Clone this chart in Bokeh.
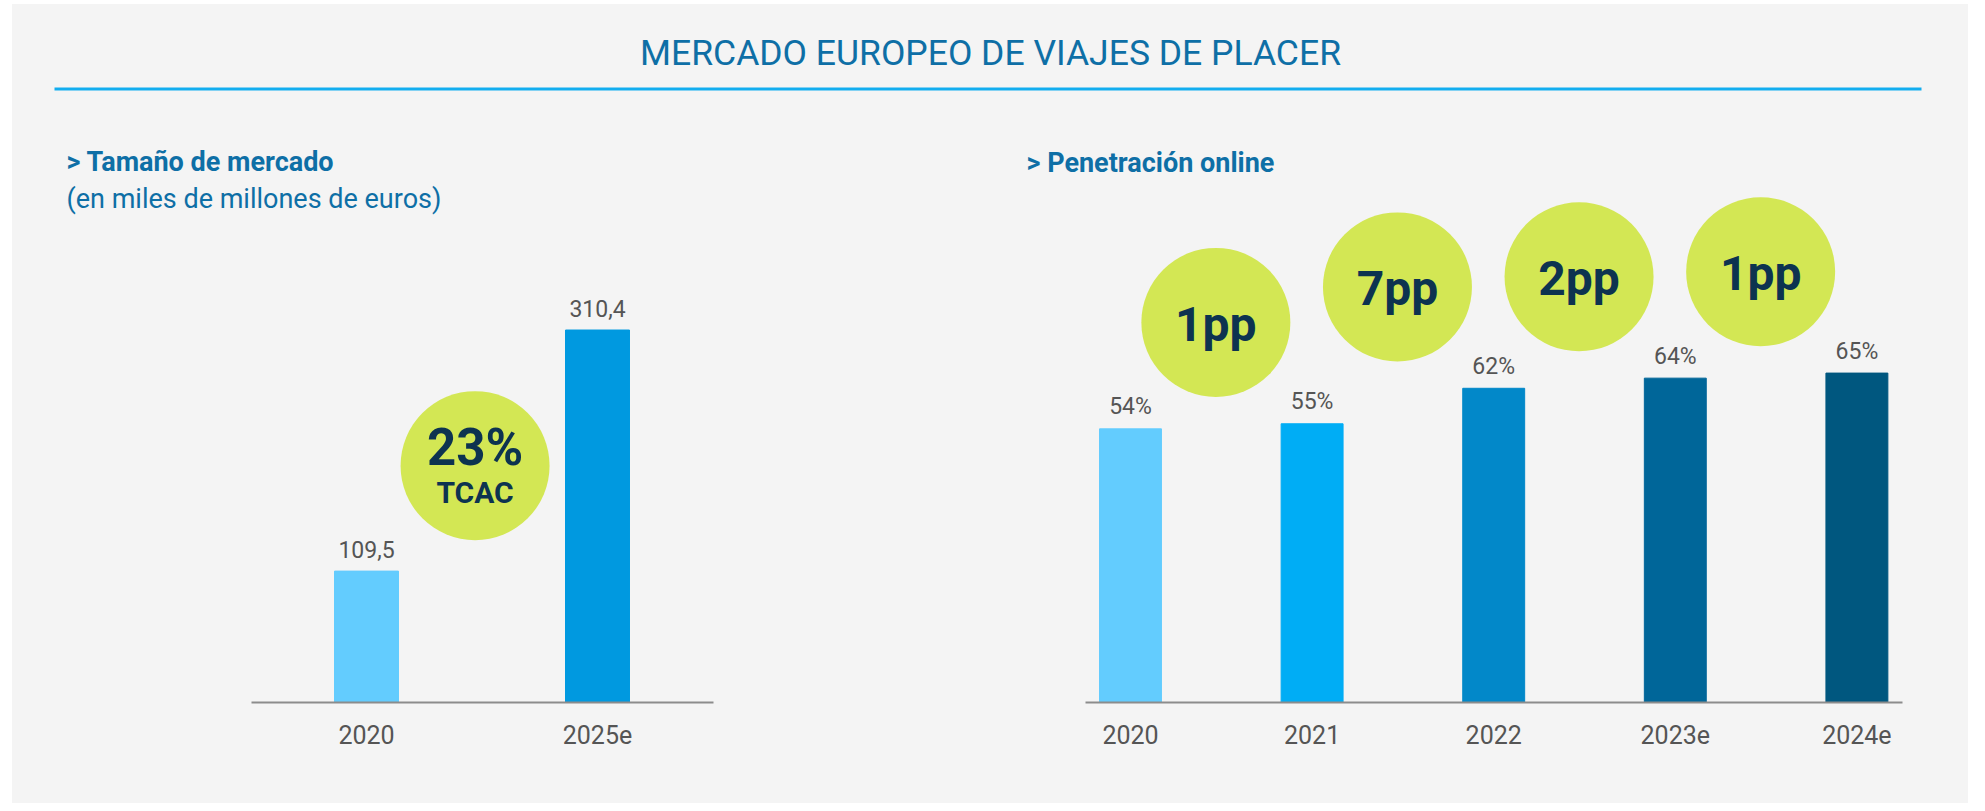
from bokeh.plotting import figure
from bokeh.models import Range1d, FixedTicker, ColumnDataSource
from bokeh.layouts import column, row
from bokeh.embed import file_html
from bokeh.resources import INLINE
from bokeh.core.properties import value

# ---------------- data ----------------
main_title = "MERCADO EUROPEO DE VIAJES DE PLACER"

left_title = "> Tamaño de mercado"
left_subtitle = "(en miles de millones de euros)"
left_years = ["2020", "2025e"]
left_values = [109.5, 310.4]
left_value_labels = ["109,5", "310,4"]
cagr_text = "23%"
cagr_caption = "TCAC"

right_title = "> Penetración online"
right_years = ["2020", "2021", "2022", "2023e", "2024e"]
right_values = [54, 55, 62, 64, 65]
right_value_labels = ["54%", "55%", "62%", "64%", "65%"]
growth_labels = ["1pp", "7pp", "2pp", "1pp"]

# ---------------- styles ----------------
FONT = "Roboto"
BG = "#f4f4f4"
BLUE_TXT = "#0e6fa6"
RULE = "#12adef"
NAVY = "#0d3350"
BUBBLE = "#d3e754"
GRAY_TXT = "#555555"
AXIS = "#8c8c8c"
left_colors = ["#63ccfe", "#0099e0"]
right_colors = ["#63ccfe", "#00adf5", "#0288c9", "#006699", "#00577f"]


def base_fig(width, height, x_range, y_range, bottom):
    p = figure(width=width, height=height, x_range=x_range, y_range=y_range,
               toolbar_location=None, output_backend="svg", title=None,
               y_axis_location=None, min_border_left=0, min_border_right=0,
               min_border_top=0, min_border_bottom=bottom,
               background_fill_color=BG, border_fill_color=BG,
               outline_line_color=None)
    p.xgrid.visible = False
    p.ygrid.visible = False
    return p


def style_axis(p, labels, lo, hi):
    ax = p.xaxis[0]
    ax.ticker = FixedTicker(ticks=list(range(len(labels))))
    ax.major_label_overrides = {i: s for i, s in enumerate(labels)}
    ax.bounds = (lo, hi)
    ax.axis_line_color = AXIS
    ax.axis_line_width = 2
    ax.major_tick_line_color = None
    ax.minor_tick_line_color = None
    ax.major_label_text_font = FONT
    ax.major_label_text_font_size = "25px"
    ax.major_label_text_color = GRAY_TXT
    ax.major_label_standoff = 16


# page-pixel layout constants
PAGE_LEFT, PAGE_TOP, PAGE_RIGHT, PAGE_BOTTOM = 12, 4, 1968, 803
HEAD_BOTTOM = 110

# ---------------- header ----------------
header = figure(width=PAGE_RIGHT - PAGE_LEFT, height=HEAD_BOTTOM - PAGE_TOP,
                x_range=Range1d(PAGE_LEFT, PAGE_RIGHT), y_range=Range1d(HEAD_BOTTOM, PAGE_TOP),
                toolbar_location=None, output_backend="svg", title=None,
                x_axis_location=None, y_axis_location=None, min_border=0,
                background_fill_color=BG, border_fill_color=BG, outline_line_color=None)
header.xgrid.visible = False
header.ygrid.visible = False
header.text(x=[990], y=[52], text=[main_title], text_align="center",
            text_baseline="alphabetic", text_font=value(FONT),
            text_font_size="35.5px", text_color=BLUE_TXT)
header.segment(x0=[54], y0=[88.5], x1=[1921], y1=[88.5], line_width=3, line_color=RULE)

CH = PAGE_BOTTOM - HEAD_BOTTOM

# ---------------- left chart ----------------
L_PX0, L_PX1 = PAGE_LEFT, 900
L_C0, L_STEP = 366, 231.0
L_BASE = 702
L_SCALE = 1.2
left = base_fig(L_PX1 - L_PX0, CH,
                Range1d((L_PX0 - L_C0) / L_STEP, (L_PX1 - L_C0) / L_STEP),
                Range1d(0, (L_BASE - HEAD_BOTTOM) / L_SCALE), PAGE_BOTTOM - L_BASE)
left.extra_x_ranges = {"px": Range1d(L_PX0, L_PX1)}
left.extra_y_ranges = {"px": Range1d(L_BASE, HEAD_BOTTOM)}

lsrc = ColumnDataSource(dict(x=list(range(len(left_years))), top=left_values,
                             color=left_colors, lab=left_value_labels))
left.vbar(x="x", top="top", width=0.277, color="color", source=lsrc)
left.text(x="x", y="top", text="lab", source=lsrc, y_offset=-22, text_align="center",
          text_baseline="alphabetic", text_font=value(FONT), text_font_size="23px",
          text_color=GRAY_TXT)
style_axis(left, left_years, -0.5, len(left_years) - 0.5)

bx = 0.5 - 0.03
by = (left_values[0] + left_values[1]) / 2 * 0.94
left.scatter(x=[bx], y=[by], size=149, marker="circle", fill_color=BUBBLE, line_color=None)
left.text(x=[bx], y=[by], text=[cagr_text], y_offset=-18, text_align="center",
          text_baseline="alphabetic", text_font=value(FONT), text_font_style="bold",
          text_font_size="51px", text_color=NAVY)
left.text(x=[bx], y=[by], text=[cagr_caption], y_offset=27, text_align="center",
          text_baseline="alphabetic", text_font=value(FONT), text_font_style="bold",
          text_font_size="30px", text_color=NAVY)

left.text(x=[66], y=[161], text=[left_title], x_range_name="px", y_range_name="px",
          text_baseline="alphabetic", text_font=value(FONT), text_font_style="bold",
          text_font_size="27px", text_color=BLUE_TXT)
left.text(x=[66], y=[198], text=[left_subtitle], x_range_name="px", y_range_name="px",
          text_baseline="alphabetic", text_font=value(FONT),
          text_font_size="27px", text_color=BLUE_TXT)

# ---------------- right chart ----------------
R_PX0, R_PX1 = 900, PAGE_RIGHT
R_C0, R_STEP = 1130, 181.6
R_BASE = 704
R_SCALE = 5.085
right = base_fig(R_PX1 - R_PX0, CH,
                 Range1d((R_PX0 - R_C0) / R_STEP, (R_PX1 - R_C0) / R_STEP),
                 Range1d(0, (R_BASE - HEAD_BOTTOM) / R_SCALE), PAGE_BOTTOM - R_BASE)
right.extra_x_ranges = {"px": Range1d(R_PX0, R_PX1)}
right.extra_y_ranges = {"px": Range1d(R_BASE, HEAD_BOTTOM)}

rsrc = ColumnDataSource(dict(x=list(range(len(right_years))), top=right_values,
                             color=right_colors, lab=right_value_labels))
right.vbar(x="x", top="top", width=0.341, color="color", source=rsrc)
right.text(x="x", y="top", text="lab", source=rsrc, y_offset=-22, text_align="center",
           text_baseline="alphabetic", text_font=value(FONT), text_font_size="23px",
           text_color=GRAY_TXT)
style_axis(right, right_years, -0.25, len(right_years) - 1 + 0.25)

gx = [i + 0.5 - 0.03 for i in range(len(growth_labels))]
gy = [max(right_values[i], right_values[i + 1]) + 20 for i in range(len(growth_labels))]
gsrc = ColumnDataSource(dict(x=gx, y=gy, lab=growth_labels))
right.scatter(x="x", y="y", size=149, marker="circle", fill_color=BUBBLE,
              line_color=None, source=gsrc)
right.text(x="x", y="y", text="lab", source=gsrc, y_offset=2, text_align="center",
           text_baseline="alphabetic", text_font=value(FONT), text_font_style="bold",
           text_font_size="48px", text_color=NAVY)

right.text(x=[1026], y=[163], text=[right_title], x_range_name="px", y_range_name="px",
           text_baseline="alphabetic", text_font=value(FONT), text_font_style="bold",
           text_font_size="27px", text_color=BLUE_TXT)

charts = row(left, right, styles={"background-color": BG})
layout = column(header, charts, styles={"background-color": BG},
                margin=(PAGE_TOP, 0, 0, PAGE_LEFT))

open("out.html", "w").write(file_html(layout, INLINE))
